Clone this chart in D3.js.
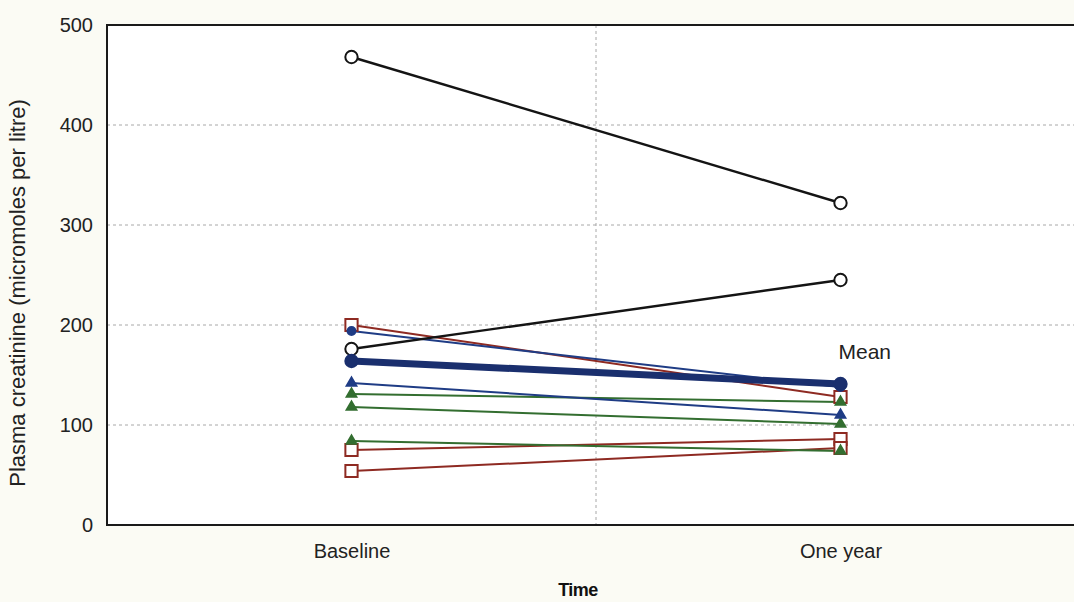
<!DOCTYPE html>
<html>
<head>
<meta charset="utf-8">
<script src="https://cdn.jsdelivr.net/npm/d3@7"></script>
<style>
  body { margin: 0; background: #fbfbf4; }
  svg { display: block; font-family: "Liberation Sans", Arial, sans-serif; }
</style>
</head>
<body>
<div id="chart"></div>
<script>
// values: [baseline, one year]
var times = ["Baseline", "One year"];
var yTicks = [0, 100, 200, 300, 400, 500];
var blackCircle = [[468, 322], [176, 245]];
var redSquare = [[200, 128], [75, 86], [54, 77]];
var blueCircle = [[194, 138]];
var blueTriangle = [[142, 110]];
var greenTriangle = [[131, 123], [118, 101], [84, 74]];
var meanValues = [164, 141];

var svgWidth = 1074;
var svgHeight = 602;

var margin = { top: 25, right: -11, bottom: 77, left: 107 };
var chartWidth = svgWidth - margin.left - margin.right;
var chartHeight = svgHeight - margin.top - margin.bottom;

var svg = d3.select("#chart")
  .append("svg")
  .attr("width", svgWidth)
  .attr("height", svgHeight);

var chartGroup = svg.append("g")
  .attr("transform", `translate(${margin.left}, ${margin.top})`);

// plot background
chartGroup.append("rect")
  .attr("width", chartWidth)
  .attr("height", chartHeight)
  .attr("fill", "#ffffff");

var xScale = d3.scaleLinear().domain([0.5, 2.5]).range([0, chartWidth]);
var yScale = d3.scaleLinear().domain([0, 500]).range([chartHeight, 0]);

// grid lines
chartGroup.selectAll(".hgrid")
  .data(yTicks.filter(d => d > 0 && d < 500))
  .enter()
  .append("line")
  .attr("x1", 0)
  .attr("x2", chartWidth)
  .attr("y1", d => yScale(d))
  .attr("y2", d => yScale(d))
  .attr("stroke", "#a8a8a8")
  .attr("stroke-width", 1)
  .attr("stroke-dasharray", "3,3");

chartGroup.append("line")
  .attr("x1", xScale(1.5))
  .attr("x2", xScale(1.5))
  .attr("y1", 0)
  .attr("y2", chartHeight)
  .attr("stroke", "#a8a8a8")
  .attr("stroke-width", 1)
  .attr("stroke-dasharray", "3,3");

// axes (labels only, frame drawn separately)
var leftAxis = d3.axisLeft(yScale).tickValues(yTicks).tickSize(0).tickPadding(14);
var yAxisG = chartGroup.append("g").call(leftAxis);
yAxisG.select(".domain").remove();
yAxisG.selectAll("text").attr("font-size", "20px").attr("fill", "#222")
  .attr("font-family", "Liberation Sans, Arial, sans-serif");

var bottomAxis = d3.axisBottom(xScale).tickValues([1, 2])
  .tickFormat((d, i) => times[i]).tickSize(0).tickPadding(19);
var xAxisG = chartGroup.append("g")
  .attr("transform", `translate(0, ${chartHeight})`)
  .call(bottomAxis);
xAxisG.select(".domain").remove();
xAxisG.selectAll("text").attr("font-size", "20px").attr("fill", "#222")
  .attr("font-family", "Liberation Sans, Arial, sans-serif");

// frame
chartGroup.append("path")
  .attr("d", `M${chartWidth},0H0V${chartHeight}H${chartWidth}`)
  .attr("fill", "none")
  .attr("stroke", "#1a1a1a")
  .attr("stroke-width", 2);

var line = d3.line()
  .x((d, i) => xScale(i + 1))
  .y(d => yScale(d));

function drawLines(data, color, width) {
  chartGroup.selectAll(null)
    .data(data)
    .enter()
    .append("path")
    .attr("d", d => line(d))
    .attr("fill", "none")
    .attr("stroke", color)
    .attr("stroke-width", width);
}

function points(data) {
  var pts = [];
  data.forEach(function(s) {
    s.forEach(function(v, i) { pts.push({ x: i + 1, y: v }); });
  });
  return pts;
}

function drawMarkers(data, type, color, fill, size) {
  var sym = d3.symbol().type(type).size(size);
  chartGroup.selectAll(null)
    .data(points(data))
    .enter()
    .append("path")
    .attr("d", sym)
    .attr("transform", d => `translate(${xScale(d.x)}, ${yScale(d.y)})`)
    .attr("fill", fill)
    .attr("stroke", color)
    .attr("stroke-width", 2);
}

var black = "#141414";
var red = "#8e2a22";
var blue = "#1f3c85";
var green = "#336e30";

drawLines(redSquare, red, 2);
drawLines(greenTriangle, green, 2);
drawLines(blueTriangle, blue, 2);
drawLines(blueCircle, blue, 2);
drawLines(blackCircle, black, 2.4);
drawLines([meanValues], "#1a2f6e", 7);

drawMarkers(redSquare, d3.symbolSquare, red, "#ffffff", 150);
drawMarkers(greenTriangle, d3.symbolTriangle, green, green, 40);
drawMarkers(blueTriangle, d3.symbolTriangle, blue, blue, 40);
drawMarkers(blueCircle, d3.symbolCircle, blue, blue, 50);
drawMarkers(blackCircle, d3.symbolCircle, black, "#ffffff", 120);
drawMarkers([meanValues], d3.symbolCircle, "#1a2f6e", "#1a2f6e", 120);

// mean label
chartGroup.append("text")
  .attr("x", xScale(2) - 2)
  .attr("y", yScale(meanValues[1] + 25))
  .attr("font-size", "21px")
  .attr("fill", "#222")
  .text("Mean");

// axis titles
svg.append("text")
  .attr("transform", `translate(25, ${margin.top + chartHeight / 2 + 18}) rotate(-90)`)
  .attr("text-anchor", "middle")
  .attr("font-size", "22px")
  .attr("fill", "#222")
  .text("Plasma creatinine (micromoles per litre)");

svg.append("text")
  .attr("x", 578)
  .attr("y", 596)
  .attr("text-anchor", "middle")
  .attr("font-size", "18px")
  .attr("font-weight", "bold")
  .attr("letter-spacing", "-0.5px")
  .attr("fill", "#111")
  .text("Time");
</script>
</body>
</html>
